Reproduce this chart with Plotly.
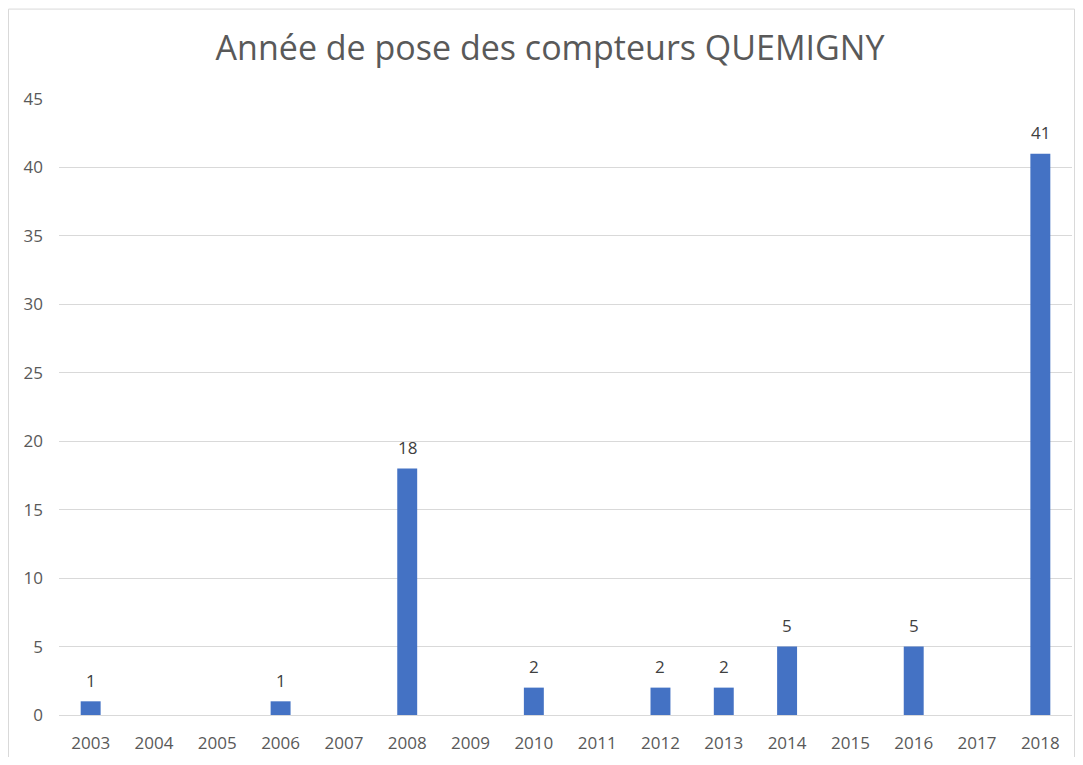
import plotly.graph_objects as go

years = ["2003", "2004", "2005", "2006", "2007", "2008", "2009", "2010",
         "2011", "2012", "2013", "2014", "2015", "2016", "2017", "2018"]
counts = [1, 0, 0, 1, 0, 18, 0, 2, 0, 2, 2, 5, 0, 5, 0, 41]
y_ticks = [0, 5, 10, 15, 20, 25, 30, 35, 40, 45]
title_text = "Année de pose des compteurs QUEMIGNY"

fig = go.Figure(go.Bar(
    x=years, y=counts,
    marker=dict(color="#4472C4", line=dict(width=0)),
    cliponaxis=False, hoverinfo="x+y",
))

# the page body adds an 8px margin on every side; keep the figure inside the window
OFF = 8
W, H = 1083 - 2 * OFF, 765 - 2 * OFF
ml = 59 - OFF
mt = 99 - OFF
mr = W - (1072 - OFF)
mb = H - (719 - OFF)
pw, ph = W - ml - mr, H - mt - mb

annotations = [
    dict(x=i, y=v, xref="x", yref="y", text=str(v), showarrow=False,
         yanchor="middle", yshift=21,
         font=dict(family="Open Sans", size=17, color="#404040"))
    for i, v in enumerate(counts) if v
]

fig.update_layout(
    width=W, height=H,
    margin=dict(l=ml, r=mr, t=mt, b=mb),
    paper_bgcolor="white", plot_bgcolor="white",
    bargap=0.685,
    showlegend=False,
    title=dict(text=title_text, xref="container", x=(550 - OFF) / W, xanchor="center",
               yref="container", y=1 - (48 - OFF) / H, yanchor="middle",
               font=dict(family="Open Sans", size=34, color="#595959")),
    font=dict(family="Open Sans", color="#595959"),
    xaxis=dict(type="category", range=[-0.5, len(years) - 0.5],
               showgrid=False, showline=False, zeroline=False,
               tickfont=dict(size=17, color="#595959"), ticks="",
               ticklabelstandoff=16),
    yaxis=dict(range=[0, 45], tickvals=y_ticks, showgrid=True, gridcolor="#d9d9d9",
               gridwidth=1, zeroline=True, zerolinecolor="#d9d9d9", zerolinewidth=1,
               showline=False, ticks="", tickfont=dict(size=17, color="#595959"),
               ticklabelstandoff=15),
    annotations=annotations,
    shapes=[dict(type="rect", xref="paper", yref="paper",
                 x0=(0.5 - ml) / pw, x1=(W - 0.5 - ml) / pw,
                 y0=-(H + 40 - (H - mb)) / ph, y1=1 + (mt - 0.5) / ph,
                 line=dict(color="#d9d9d9", width=1), fillcolor="rgba(0,0,0,0)",
                 layer="below")],
)

fig.write_html("out.html")
